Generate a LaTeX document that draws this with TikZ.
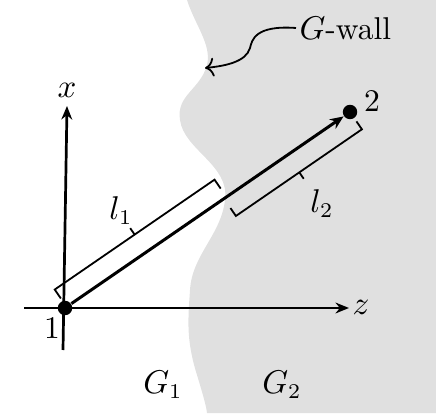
\documentclass[tikz,border=0pt]{standalone}
\usepackage{tikz}
\usetikzlibrary{arrows.meta,calc}

\definecolor{wallgray}{RGB}{224,224,224}

\tikzset{
  dot/.style={circle,fill=black,inner sep=0pt,minimum size=4.8pt},
  axis/.style={line width=0.9pt,-{Stealth[length=4.5pt,width=3.6pt]}},
  bracket/.style={line width=0.6pt},
}

\begin{document}
\begin{tikzpicture}[x=0.333pt,y=-0.333pt,font=\fontsize{10.5}{12}\selectfont]
\useasboundingbox (0,0) rectangle (436,413);
% the G2 side behind the wall
\fill[wallgray] (187,0) .. controls (195,25) and (212,45) .. (207,65)
  .. controls (200,90) and (176,95) .. (180,120)
  .. controls (184,150) and (230,165) .. (225,200)
  .. controls (221,235) and (192,255) .. (190,290)
  .. controls (188,320) and (186,340) .. (197,375)
  .. controls (203,395) and (206,405) .. (207,413)
  -- (436,413) -- (436,0) -- cycle;

\node[dot] (p1) at (65,308) {};
\node[dot] (p2) at (350,112) {};
\node (one) at (52,328) {1};
\node (two) at (372,101) {2};

\coordinate (xbot) at (63,350);
\coordinate (xtop) at (67,106);
\coordinate (zleft) at (24,308);
\coordinate (zright) at (349,308);
\draw[axis] (xbot) -- (xtop);
\draw[axis] (zleft) -- (zright);
\node (xlab) at (67,90) {$x$};
\node (zlab) at (361,307) {$z$};

\draw[line width=1pt,-{Stealth[length=4.5pt,width=3.8pt]}] (p1) -- (p2);

% l1 bracket
\coordinate (a1) at ($(65,308)!2/346!(350,112)$);
\coordinate (a2) at ($(65,308)!196/346!(350,112)$);
\coordinate (am) at ($(65,308)!99/346!(350,112)$);
\draw[bracket] ($(a1)!3.4pt!90:(a2)$) -- ($(a1)!7pt!90:(a2)$)
  -- ($(a2)!7pt!-90:(a1)$) -- ($(a2)!3.4pt!-90:(a1)$);
\draw[bracket] ($(am)!7pt!90:(a2)$) -- ($(am)!9.6pt!90:(a2)$);
\node (l1) at (121,211) {$l_1$};

% l2 bracket
\coordinate (b1) at ($(65,308)!193/346!(350,112)$);
\coordinate (b2) at ($(65,308)!346/346!(350,112)$);
\coordinate (bm) at ($(65,308)!270/346!(350,112)$);
\draw[bracket] ($(b1)!3.8pt!-90:(b2)$) -- ($(b1)!7pt!-90:(b2)$)
  -- ($(b2)!7pt!90:(b1)$) -- ($(b2)!3.8pt!90:(b1)$);
\draw[bracket] ($(bm)!7pt!-90:(b2)$) -- ($(bm)!9.6pt!-90:(b2)$);
\node (l2) at (322,204) {$l_2$};

\node[anchor=west,inner sep=1pt] (wall) at (296,28) {$G$-wall};
\coordinate (wallpt) at (205,68);
\draw[line width=0.6pt,-{To[length=3pt]}] (wall.west) .. controls (255,25) and (252,40) .. (250,48)
  .. controls (246,62) and (225,66) .. (wallpt);

\node (g1) at (163,385) {$G_1$};
\node (g2) at (282,385) {$G_2$};
\end{tikzpicture}
\end{document}
